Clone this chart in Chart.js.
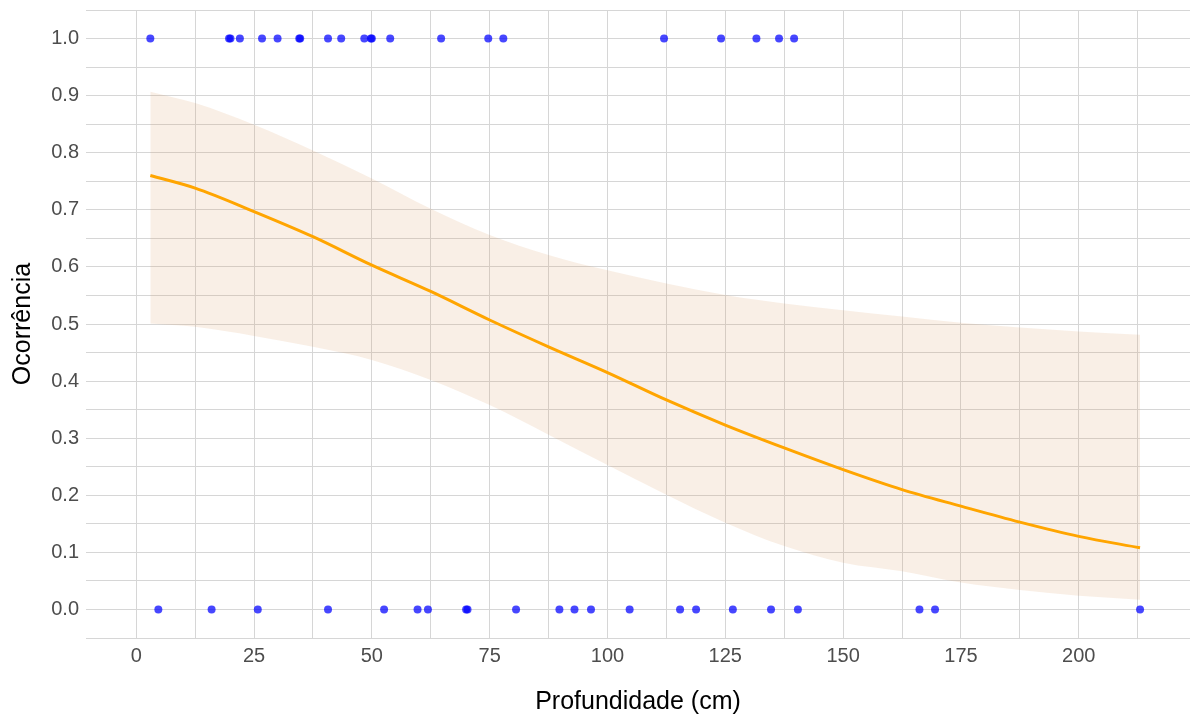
<!DOCTYPE html>
<html>
<head>
<meta charset="utf-8">
<script src="https://cdn.jsdelivr.net/npm/chart.js@4"></script>
<style>
  html, body { margin: 0; padding: 0; background: #ffffff; }
  #wrap { width: 1195px; height: 720px; }
</style>
</head>
<body>
<div id="wrap"><canvas id="c" width="1195" height="720"></canvas></div>
<script>
// ---- data ----
const presenceX = [3, 19.7, 20, 22, 26.7, 30, 34.6, 34.8, 40.7, 43.5, 48.4, 49.8, 50, 53.9, 64.7, 74.7, 77.9, 112, 124.1, 131.6, 136.4, 139.6];
const absenceX = [4.7, 16, 25.8, 40.7, 52.6, 59.7, 61.9, 70, 70.3, 80.6, 89.8, 93, 96.5, 104.7, 115.4, 118.8, 126.6, 134.7, 140.4, 166.2, 169.5, 213];

const fitX     = [3, 12.5, 25, 37.5, 50, 62.5, 75, 87.5, 100, 112.5, 125, 137.5, 150, 162.5, 175, 187.5, 200, 213];
const fitY     = [0.760, 0.738, 0.697, 0.653, 0.603, 0.557, 0.507, 0.460, 0.415, 0.367, 0.323, 0.283, 0.245, 0.210, 0.181, 0.153, 0.128, 0.108];
const fitUpper = [0.907, 0.887, 0.849, 0.804, 0.755, 0.702, 0.656, 0.621, 0.594, 0.571, 0.551, 0.536, 0.524, 0.513, 0.502, 0.494, 0.487, 0.481];
const fitLower = [0.501, 0.495, 0.479, 0.460, 0.437, 0.402, 0.358, 0.306, 0.253, 0.201, 0.152, 0.111, 0.082, 0.067, 0.047, 0.034, 0.024, 0.017];

const xTickValues = [0, 25, 50, 75, 100, 125, 150, 175, 200];
const xTickLabels = ['0', '25', '50', '75', '100', '125', '150', '175', '200'];
const xMinorValues = [12.5, 37.5, 62.5, 87.5, 112.5, 137.5, 162.5, 187.5, 212.5];
const yTickValues = [0, 0.1, 0.2, 0.3, 0.4, 0.5, 0.6, 0.7, 0.8, 0.9, 1.0];
const yTickLabels = ['0.0', '0.1', '0.2', '0.3', '0.4', '0.5', '0.6', '0.7', '0.8', '0.9', '1.0'];
const yMinorValues = [-0.05, 0.05, 0.15, 0.25, 0.35, 0.45, 0.55, 0.65, 0.75, 0.85, 0.95, 1.05];

const xTitle = 'Profundidade (cm)';
const yTitle = 'Ocorrência';

// ---- build ----
const toPts = (xs, ys) => xs.map((x, i) => ({ x: x, y: ys[i] }));
const FONT = '"Liberation Sans", Arial, sans-serif';
const GRID = '#d6d6d6';

function labelFor(v, vals, labels) {
  for (let i = 0; i < vals.length; i++) if (Math.abs(v - vals[i]) < 1e-6) return labels[i];
  return '';
}

const ctx = document.getElementById('c').getContext('2d');
new Chart(ctx, {
  type: 'scatter',
  data: {
    datasets: [
      {
        label: 'upper', type: 'line', data: toPts(fitX, fitUpper),
        borderWidth: 0, borderColor: 'rgba(0,0,0,0)', pointRadius: 0,
        fill: '+1', backgroundColor: 'rgba(215,150,90,0.15)',
        cubicInterpolationMode: 'monotone', order: 3
      },
      {
        label: 'lower', type: 'line', data: toPts(fitX, fitLower),
        borderWidth: 0, borderColor: 'rgba(0,0,0,0)', pointRadius: 0,
        fill: false, cubicInterpolationMode: 'monotone', order: 4
      },
      {
        label: 'fit', type: 'line', data: toPts(fitX, fitY),
        borderColor: '#FFA500', borderWidth: 3, pointRadius: 0, fill: false,
        cubicInterpolationMode: 'monotone', order: 2
      },
      {
        label: 'presence', data: presenceX.map(x => ({ x: x, y: 1 })),
        backgroundColor: 'rgba(0,0,255,0.72)', borderWidth: 0, pointRadius: 4, order: 1
      },
      {
        label: 'absence', data: absenceX.map(x => ({ x: x, y: 0 })),
        backgroundColor: 'rgba(0,0,255,0.72)', borderWidth: 0, pointRadius: 4, order: 0
      }
    ]
  },
  options: {
    responsive: false,
    animation: false,
    events: [],
    layout: { padding: { top: 10, right: 5, left: 0, bottom: 0 } },
    plugins: { legend: { display: false }, tooltip: { enabled: false } },
    scales: {
      x: {
        type: 'linear', min: -10.65, max: 223.6,
        border: { display: false },
        grid: { color: GRID, lineWidth: 1, drawTicks: false },
        afterBuildTicks: s => {
          s.ticks = xTickValues.concat(xMinorValues).sort((a, b) => a - b).map(v => ({ value: v }));
        },
        afterFit: s => { s.height = 82; s.paddingLeft = 0; s.paddingRight = 0; },
        ticks: {
          autoSkip: false, maxRotation: 0, padding: 6, color: '#4d4d4d',
          font: { family: FONT, size: 20 },
          callback: v => labelFor(v, xTickValues, xTickLabels)
        },
        title: {
          display: true, text: xTitle, color: '#000000',
          font: { family: FONT, size: 25 }, padding: { top: 0, bottom: 3 }
        }
      },
      y: {
        type: 'linear', min: -0.05, max: 1.05,
        border: { display: false },
        grid: { color: GRID, lineWidth: 1, drawTicks: false },
        afterBuildTicks: s => {
          s.ticks = yTickValues.concat(yMinorValues).sort((a, b) => a - b).map(v => ({ value: v }));
        },
        afterFit: s => { s.width = 86; s.paddingTop = 0; s.paddingBottom = 0; },
        ticks: {
          autoSkip: false, padding: 7, color: '#4d4d4d',
          font: { family: FONT, size: 20 },
          callback: v => labelFor(v, yTickValues, yTickLabels)
        },
        title: {
          display: true, text: yTitle, color: '#000000',
          font: { family: FONT, size: 25 }, padding: { top: 8, bottom: 0 }
        }
      }
    }
  }
});
</script>
</body>
</html>
